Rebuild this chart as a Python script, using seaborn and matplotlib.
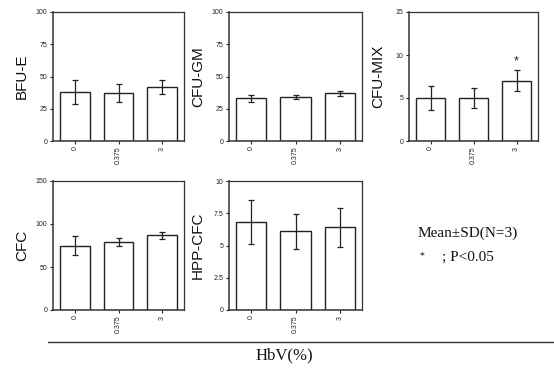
import matplotlib
matplotlib.use("Agg")
import matplotlib.pyplot as plt
import seaborn as sns
import pandas as pd
import numpy as np
from matplotlib.lines import Line2D

sns.set_style("white")
plt.rcParams['font.family'] = ['Liberation Sans', 'DejaVu Sans']

doses = ["0", "0.375", "3"]

bfue_mean = [38, 37.5, 42]
bfue_sd = [9, 7, 5.5]
cfugm_mean = [33, 34, 37]
cfugm_sd = [3, 1.5, 2]
cfumix_mean = [5, 5, 7]
cfumix_sd = [1.4, 1.2, 1.2]
cfc_mean = [75, 79, 87]
cfc_sd = [11, 5, 4]
hpp_mean = [6.85, 6.1, 6.4]
hpp_sd = [1.7, 1.35, 1.5]

panels = [
    ("BFU-E", bfue_mean, bfue_sd, [0, 25, 50, 75, 100], ["0", "25", "50", "75", "100"], None),
    ("CFU-GM", cfugm_mean, cfugm_sd, [0, 25, 50, 75, 100], ["0", "25", "50", "75", "100"], None),
    ("CFU-MIX", cfumix_mean, cfumix_sd, [0, 5, 10, 15], ["0", "5", "10", "15"], 2),
    ("CFC", cfc_mean, cfc_sd, [0, 50, 100, 150], ["0", "50", "100", "150"], None),
    ("HPP-CFC", hpp_mean, hpp_sd, [0, 2.5, 5, 7.5, 10], ["0", "2.5", "5", "7.5", "10"], None),
]

# pixel boxes: left, top, right, bottom
boxes = [
    (53, 12, 184, 141),
    (229, 12, 362, 141),
    (409, 12, 538, 141),
    (53, 181, 184, 310),
    (229, 181, 362, 310),
]
ylabel_x = [22, 198, 378, 22, 198]

W, H = 554, 370
fig = plt.figure(figsize=(W / 100, H / 100), dpi=100)

for (name, means, sds, yt, ytl, star), (l, t, r, b), ylx in zip(panels, boxes, ylabel_x):
    ax = fig.add_axes([l / W, 1 - b / H, (r - l) / W, (b - t) / H])
    df = pd.DataFrame({"dose": doses, "value": means})
    sns.barplot(data=df, x="dose", y="value", ax=ax, color="white",
                edgecolor="#222222", linewidth=1.0, width=0.68, errorbar=None)
    ax.errorbar(range(len(doses)), means, yerr=sds, fmt="none", ecolor="#222222",
                elinewidth=0.9, capsize=2.2, capthick=0.9)
    ax.set_xlim(-0.5, 2.5)
    ax.set_ylim(yt[0], yt[-1])
    ax.set_yticks(yt)
    ax.set_yticklabels(ytl, fontsize=5)
    ax.set_xticks(range(len(doses)))
    ax.set_xticklabels(doses, rotation=90, fontsize=5)
    ax.tick_params(axis="both", direction="out", length=2.5, width=0.8, pad=1.5,
                   left=True, bottom=True, colors="#222222")
    ax.set_xlabel("")
    ax.set_ylabel("")
    for s in ax.spines.values():
        s.set_color("#333333")
        s.set_linewidth(0.9)
    ax.spines["left"].set_linewidth(1.1)
    ax.spines["bottom"].set_linewidth(1.1)
    fig.text(ylx / W, 1 - ((t + b) / 2) / H, name, rotation=90, ha="center",
             va="center", fontsize=11, color="#111111")
    if star is not None:
        ax.text(star, means[star] + sds[star] + 0.35, "*", ha="center", va="bottom",
                fontsize=9, color="#222222")

# bottom rule and x title
fig.add_artist(Line2D([48 / W, 1.0], [1 - 342 / H, 1 - 342 / H], color="#333333",
                      linewidth=1.0, transform=fig.transFigure))
fig.text(284 / W, 1 - 355 / H, "HbV(%)", ha="center", va="center", fontsize=12,
         family=["Liberation Serif", "DejaVu Serif"], color="#111111")

fig.text(418 / W, 1 - 233 / H, "Mean±SD(N=3)", ha="left", va="center", fontsize=11,
         family=["Liberation Serif", "DejaVu Serif"], color="#111111")
fig.text(422 / W, 1 - 256 / H, "*", ha="center", va="center", fontsize=7,
         family=["Liberation Serif", "DejaVu Serif"], color="#111111")
fig.text(442 / W, 1 - 257 / H, "; P<0.05", ha="left", va="center", fontsize=11,
         family=["Liberation Serif", "DejaVu Serif"], color="#111111")

fig.savefig("out.png", dpi=100)
